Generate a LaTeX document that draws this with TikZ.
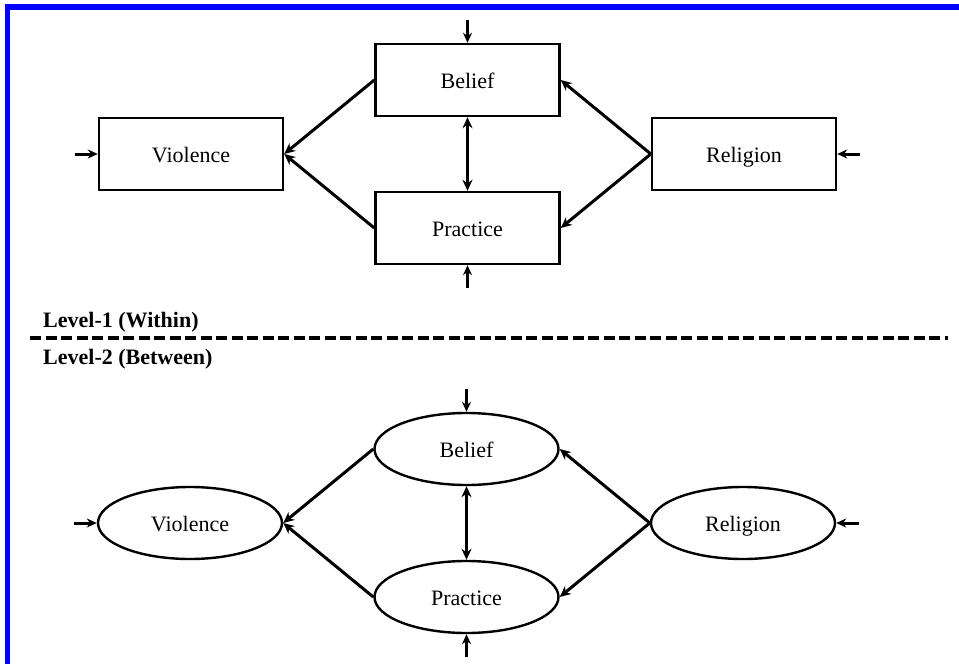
\documentclass[tikz,border=0pt]{standalone}
\usepackage{fontspec}
\setmainfont{Liberation Serif}
\usetikzlibrary{positioning, shapes.geometric, arrows.meta}

\tikzset{
    var/.style={draw, line width=2.4pt, minimum width=184pt, minimum height=72pt,
        text height=16pt, text depth=0pt, font=\fontsize{22}{26}\selectfont},
    box/.style={var, rectangle},
    oval/.style={var, ellipse},
    path/.style={line width=3pt, -{Stealth[length=11pt, width=10pt]}},
    both/.style={line width=3pt, {Stealth[length=11pt, width=10pt]}-{Stealth[length=11pt, width=10pt]}},
    resid/.style={line width=3pt, -{Stealth[length=10pt, width=9pt]}},
    level/.style={anchor=base west, inner sep=0pt, font=\fontsize{22}{26}\selectfont\bfseries}
}

\begin{document}
\begin{tikzpicture}[x=1pt, y=-1pt, node distance=74pt and 276.5pt, on grid]
    \useasboundingbox (0,0) rectangle (959,664);
    \fill[blue] (5,4) rectangle (959,10);
    \fill[blue] (5,4) rectangle (10,664);

    % Level-1 (within)
    \node[box] (V1) at (191,154) {Violence};
    \node[box, above right=of V1] (B1) {Belief};
    \node[box, below right=of V1] (P1) {Practice};
    \node[box, below right=of B1] (R1) {Religion};

    \coordinate[left=23pt of V1.west] (eV1);
    \coordinate[above=23pt of B1.north] (eB1);
    \coordinate[below=23pt of P1.south] (eP1);
    \coordinate[right=23pt of R1.east] (eR1);

    \draw[path] (B1.west) -- (V1.east);
    \draw[path] (P1.west) -- (V1.east);
    \draw[path] (R1.west) -- (B1.east);
    \draw[path] (R1.west) -- (P1.east);
    \draw[both] (B1) -- (P1);
    \draw[resid] (eV1) -- (V1);
    \draw[resid] (eB1) -- (B1);
    \draw[resid] (eP1) -- (P1);
    \draw[resid] (eR1) -- (R1);

    % Divider between levels
    \node[level] (L1) at (43,327) {Level-1 (Within)};
    \node[level] (L2) at (43,364) {Level-2 (Between)};
    \coordinate (dl) at (30,338);
    \coordinate (dr) at (948,338);
    \draw[line width=3.4pt, dash pattern=on 11pt off 4.5pt] (dl) -- (dr);

    % Level-2 (between)
    \node[oval] (V2) at (190,523) {Violence};
    \node[oval, above right=of V2] (B2) {Belief};
    \node[oval, below right=of V2] (P2) {Practice};
    \node[oval, below right=of B2] (R2) {Religion};

    \coordinate[left=23pt of V2.west] (eV2);
    \coordinate[above=23pt of B2.north] (eB2);
    \coordinate[below=23pt of P2.south] (eP2);
    \coordinate[right=23pt of R2.east] (eR2);

    \draw[path] (B2.west) -- (V2.east);
    \draw[path] (P2.west) -- (V2.east);
    \draw[path] (R2.west) -- (B2.east);
    \draw[path] (R2.west) -- (P2.east);
    \draw[both] (B2) -- (P2);
    \draw[resid] (eV2) -- (V2);
    \draw[resid] (eB2) -- (B2);
    \draw[resid] (eP2) -- (P2);
    \draw[resid] (eR2) -- (R2);
\end{tikzpicture}
\end{document}
